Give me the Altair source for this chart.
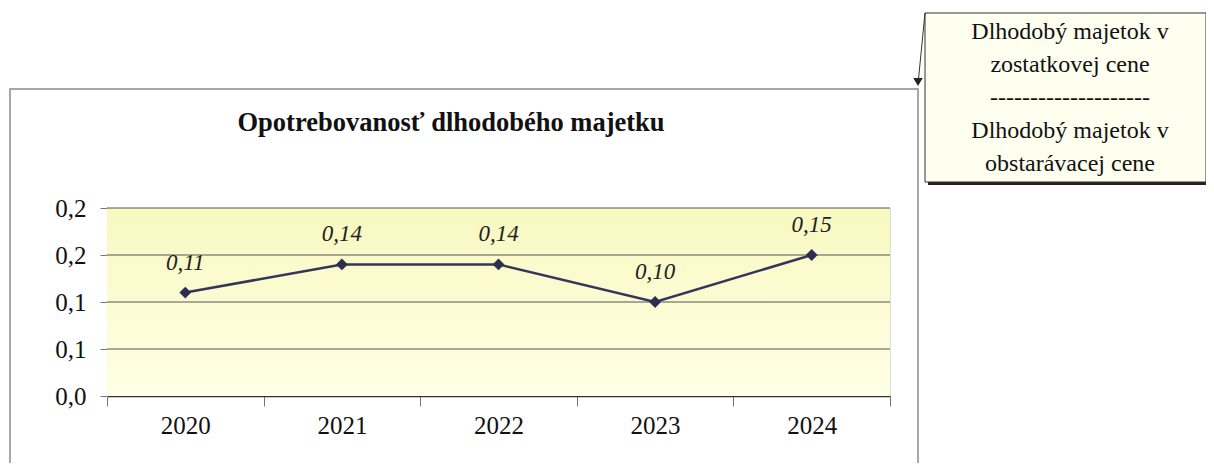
import json
import altair as alt
import pandas as pd

# ---- data ----
years = ["2020", "2021", "2022", "2023", "2024"]
values = [0.11, 0.14, 0.14, 0.10, 0.15]
value_labels = ["0,11", "0,14", "0,14", "0,10", "0,15"]
y_ticks = [0.0, 0.05, 0.10, 0.15, 0.20]
y_tick_labels = ["0,0", "0,1", "0,1", "0,2", "0,2"]
title_text = "Opotrebovanosť dlhodobého majetku"
callout_lines = ["Dlhodobý majetok v", "zostatkovej cene", "-" * 20,
                 "Dlhodobý majetok v", "obstarávacej cene"]

FONT = "Liberation Serif"
W, H = 783, 188

df = pd.DataFrame({"year": years, "value": values, "label": value_labels})
grid_df = pd.DataFrame({"value": y_ticks[1:]})
one = alt.Data(values=[{"k": 1}])

label_expr = json.dumps(y_tick_labels) + "[round(datum.value / 0.05)]"

x_enc = alt.X(
    "year:N", sort=years, bandPosition=0.5,
    scale=alt.Scale(type="band", paddingInner=0, paddingOuter=0),
    axis=alt.Axis(title=None, labelFont=FONT, labelFontSize=25, labelColor="#111",
                  labelAngle=0, tickBand="extent", tickSize=10, tickColor="#777",
                  labelPadding=7, domainColor="#333", domainWidth=1.5, grid=False),
)
y_scale = alt.Scale(domain=[0, 0.2], nice=False, zero=True)
y_enc = alt.Y(
    "value:Q", scale=y_scale,
    axis=alt.Axis(title=None, values=y_ticks, labelExpr=label_expr, labelFont=FONT,
                  labelFontSize=25, labelColor="#111", tickSize=7, tickColor="#777",
                  labelPadding=14, domainColor="#999", grid=False),
)

bg = alt.Chart(one).mark_rect(
    color=alt.LinearGradient(gradient="linear", x1=0, x2=0, y1=0, y2=1,
                             stops=[alt.GradientStop(color="#F8F8C0", offset=0),
                                    alt.GradientStop(color="#FFFFE6", offset=1)])
).encode(x=alt.value(0), x2=alt.value(W), y=alt.value(0), y2=alt.value(H))

grid = alt.Chart(grid_df).mark_rule(color="#555", strokeWidth=1).encode(
    y=alt.Y("value:Q", scale=y_scale), x=alt.value(0), x2=alt.value(W))

base = alt.Chart(df)
line = base.mark_line(color="#35355a", strokeWidth=2.5).encode(x=x_enc, y=y_enc)
pts = base.mark_point(shape="diamond", filled=True, size=140, color="#2d2d50", opacity=1).encode(
    x=x_enc, y=y_enc)
lbl = base.mark_text(font=FONT, fontSize=23, fontStyle="italic", color="#222",
                     baseline="middle", dy=-30).encode(x=x_enc, y=y_enc, text="label:N")

frame = alt.Chart(one).mark_rect(fillOpacity=0, stroke="#8a8a8a", strokeWidth=1.5).encode(
    x=alt.value(-97), x2=alt.value(811), y=alt.value(-119), y2=alt.value(261))

title = alt.Chart(one).mark_text(text=title_text, font=FONT, fontSize=26.5, fontWeight="bold",
                                 color="#111", align="center", baseline="alphabetic").encode(
    x=alt.value(344), y=alt.value(-77))

shadow = alt.Chart(one).mark_rect(fill="#222").encode(
    x=alt.value(821), x2=alt.value(1102), y=alt.value(-192), y2=alt.value(-23))
box = alt.Chart(one).mark_rect(fill="#FFFFF0", stroke="#333", strokeWidth=1).encode(
    x=alt.value(818), x2=alt.value(1099), y=alt.value(-195), y2=alt.value(-26))
box_text = alt.Chart(one).mark_text(text=callout_lines, font=FONT, fontSize=24, color="#111",
                                    align="center", baseline="middle", lineHeight=33).encode(
    x=alt.value(963), y=alt.value(-176))
pointer = alt.Chart(one).mark_rule(color="#333", strokeWidth=1).encode(
    x=alt.value(818), x2=alt.value(811), y=alt.value(-195), y2=alt.value(-124))
tri = alt.Chart(one).mark_point(shape="triangle-down", filled=True, size=90, color="#222",
                                opacity=1).encode(x=alt.value(811), y=alt.value(-126))

chart = alt.layer(bg, grid, line, pts, lbl, frame, title, shadow, box, box_text, pointer,
                  tri).properties(
    width=W, height=H,
    autosize=alt.AutoSizeParams(type="none"),
    padding={"left": 99, "top": 200, "right": 316, "bottom": 67},
).configure_view(stroke="#999", strokeWidth=1).configure(background="white")

chart.save("out.html", embed_options={"renderer": "svg", "actions": False})
